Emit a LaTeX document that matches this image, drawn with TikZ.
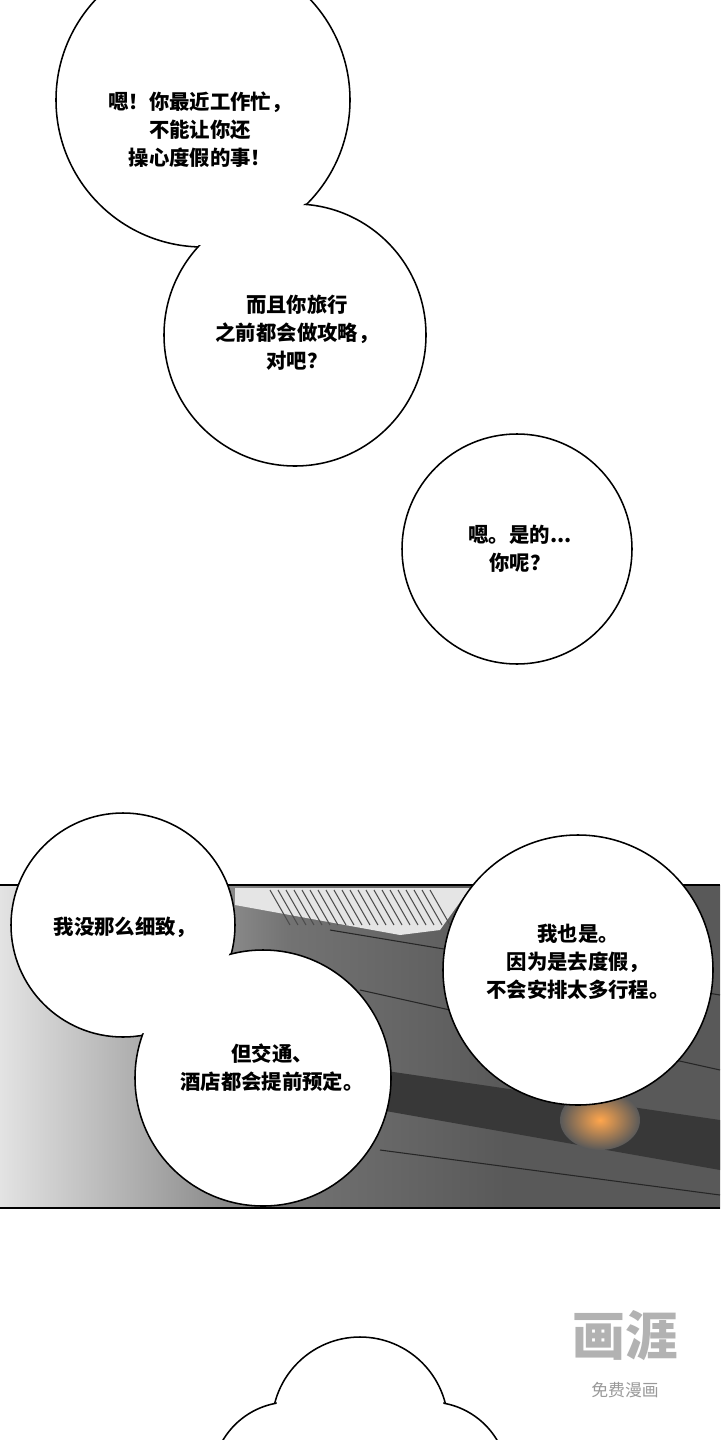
\documentclass[tikz,border=0pt]{standalone}
\usepackage{fontspec}
\newfontfamily\cjk{Noto Sans CJK SC}
\begin{document}
\begin{tikzpicture}[x=0.05cm,y=-0.05cm,
  ol/.style={draw=black,line width=2.2pt,fill=white},
  txt/.style={font=\cjk\bfseries\fontsize{29}{40}\selectfont,align=center,text=black}]
\useasboundingbox (0,0) rectangle (720,1440);
\fill[white] (0,0) rectangle (720,1440);
% panel
\pgfdeclarehorizontalshading{panelsh}{100bp}{color(0bp)=(white); color(20bp)=(white); color(45bp)=(black!55); color(60bp)=(black!65); color(100bp)=(black!65)}
\shade[shading=panelsh] (0,885) rectangle (720,1208);
\fill[black!78] (380,1070) -- (720,1120) -- (720,1170) -- (380,1110) -- cycle;
\draw[black!85,line width=1.5pt] (360,990) -- (720,1070);
\draw[black!85,line width=1.5pt] (380,1150) -- (720,1195);
\draw[black!85,line width=1.5pt] (330,930) -- (720,995);
\fill[black!10] (235,888) -- (470,888) -- (440,930) -- (400,935) -- (235,905) -- cycle;
\foreach \i in {0,...,20} \draw[black!70,line width=1.5pt] (270+8*\i,890) -- (290+8*\i,925);
\shade[inner color=orange!70,outer color=black!65] (600,1120) ellipse (40 and 30);
\draw[black,line width=2.5pt] (0,885) -- (720,885);
\draw[black,line width=2.5pt] (0,1208) -- (720,1208);
% bubble 1+2
\draw[ol] (203,100) circle (147);
\draw[ol] (295,335) circle (131);
\fill[white] (203,100) circle (145);
\fill[white] (295,335) circle (129);
\node[txt] (t1) at (200,130) {嗯！你最近工作忙，\\不能让你还\\操心度假的事！};
\node[txt] (t2) at (297,333) {而且你旅行\\之前都会做攻略，\\对吧？};
% bubble 3
\draw[ol] (517,549) circle (115);
\node[txt] (t3) at (520,549) {嗯。是的...\\你呢？};
% bubbles 4+5
\draw[ol] (123,925) circle (112);
\draw[ol] (263,1078) circle (128);
\fill[white] (123,925) circle (110);
\fill[white] (263,1078) circle (126);
\node[txt] (t4) at (125,927) {我没那么细致，};
\node[txt] (t5) at (272,1068) {但交通、\\酒店都会提前预定。};
% bubble 6
\draw[ol] (578,970) circle (135);
\node[txt] (t6) at (578,962) {我也是。\\因为是去度假，\\不会安排太多行程。};
% cloud bubble
\draw[ol] (360,1425) circle (88);
\draw[ol] (290,1480) circle (78);
\draw[ol] (430,1480) circle (78);
\fill[white] (360,1425) circle (86);
\fill[white] (290,1480) circle (76);
\fill[white] (430,1480) circle (76);
% watermark
\node[font=\cjk\bfseries\fontsize{75}{75}\selectfont,text=black!30] (w1) at (625,1336) {画涯};
\node[font=\cjk\fontsize{24}{24}\selectfont,text=black!40] (w2) at (625,1390) {免费漫画};
\end{tikzpicture}
\end{document}
